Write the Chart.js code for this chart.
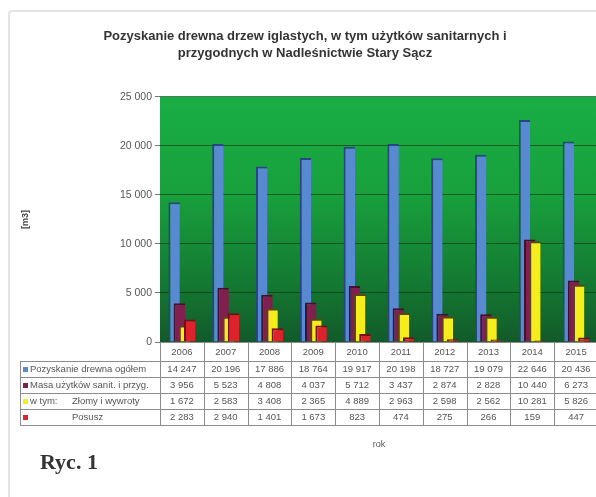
<!DOCTYPE html>
<html lang="pl">
<head>
<meta charset="utf-8">
<script src="https://cdn.jsdelivr.net/npm/chart.js@4.4.1/dist/chart.umd.min.js"></script>
<style>
  html, body { margin: 0; padding: 0; background: #fff; overflow: hidden; }
  #ramka { position: absolute; left: 8px; top: 10px; width: 640px; height: 540px; border: 2px solid #e4e4e4; border-radius: 4px; }
  #wykres { position: absolute; left: 0; top: 0; }
  #ryc { position: absolute; left: 40px; top: 449px; font: bold 22px 'Liberation Serif', serif; color: #333; }
</style>
</head>
<body>
<div id="ramka"></div>
<canvas id="wykres" width="600" height="497"></canvas>
<div id="ryc">Ryc. 1</div>
<script>
    // dane z tabeli pod wykresem
    const lata = ['2006', '2007', '2008', '2009', '2010', '2011', '2012', '2013', '2014', '2015'];
    const ogolem = [14247, 20196, 17886, 18764, 19917, 20198, 18727, 19079, 22646, 20436];
    const masaSanit = [3956, 5523, 4808, 4037, 5712, 3437, 2874, 2828, 10440, 6273];
    const zlomy = [1672, 2583, 3408, 2365, 4889, 2963, 2598, 2562, 10281, 5826];
    const posusz = [2283, 2940, 1401, 1673, 823, 474, 275, 266, 159, 447];
    const osY = [0, 5000, 10000, 15000, 20000, 25000];

    const tytul = ['Pozyskanie drewna drzew iglastych, w tym użytków sanitarnych i', 'przygodnych w Nadleśnictwie Stary Sącz'];
    const nazwy = ['Pozyskanie drewna ogółem', 'Masa użytków sanit. i przyg.', 'Złomy i wywroty', 'Posusz'];

    const paleta = {
        niebieski: 'rgb(88, 138, 210)',
        niebieskiCien: 'rgb(40, 70, 130)',
        bordo: 'rgb(128, 32, 78)',
        bordoCien: 'rgb(70, 15, 45)',
        zolty: 'rgb(246, 238, 28)',
        zoltyCien: 'rgb(90, 70, 20)',
        czerwony: 'rgb(222, 34, 44)',
        czerwonyCien: 'rgb(120, 15, 20)',
        tekst: '#555'
    };
    const czcionka = 'Arial, "Liberation Sans", sans-serif';

    const fmt = v => String(v).replace(/\B(?=(\d{3})+(?!\d))/g, ' ');

    // zielone tlo obszaru wykresu
    const tlo = {
        id: 'tlo',
        beforeDraw(chart) {
            const { ctx, chartArea: a } = chart;
            const g = ctx.createLinearGradient(0, a.top, 0, a.bottom);
            g.addColorStop(0, '#19ae45');
            g.addColorStop(0.4, '#18a03c');
            g.addColorStop(0.75, '#147a32');
            g.addColorStop(1, '#125a2a');
            ctx.save();
            ctx.fillStyle = g;
            ctx.fillRect(a.left, a.top, a.right - a.left, a.bottom - a.top);
            ctx.restore();
        }
    };

    // kolumny rysowane od tylu (niebieska) do przodu (czerwona)
    const kolejnosc = {
        id: 'kolejnosc',
        beforeDatasetsDraw(chart) {
            chart.getSortedVisibleDatasetMetas().forEach(meta => meta.controller.draw());
            return false;
        }
    };

    // tabela danych pod osia X
    const tabela = {
        id: 'tabela',
        afterDraw(chart) {
            const { ctx, chartArea: a, scales: { x } } = chart;
            const wiersze = [ogolem, masaSanit, zlomy, posusz];
            const kolory = [paleta.niebieski, paleta.bordo, paleta.zolty, paleta.czerwony];
            const szer = (a.right - a.left) / lata.length;
            const lewa = 20;
            const ys = [a.bottom];
            [19, 16, 16, 16, 16].forEach(h => ys.push(ys[ys.length - 1] + h));

            ctx.save();
            ctx.strokeStyle = '#8c8c8c';
            ctx.lineWidth = 1;
            ctx.beginPath();
            ctx.moveTo(a.left, ys[0] + 0.5); ctx.lineTo(a.right, ys[0] + 0.5);
            for (let i = 1; i < ys.length; i++) {
                ctx.moveTo(lewa, ys[i] + 0.5); ctx.lineTo(a.right, ys[i] + 0.5);
            }
            ctx.moveTo(lewa + 0.5, ys[1]); ctx.lineTo(lewa + 0.5, ys[5]);
            for (let k = 0; k <= lata.length; k++) {
                const px = Math.round(a.left + k * szer) + 0.5;
                ctx.moveTo(px, ys[0]); ctx.lineTo(px, ys[5]);
            }
            ctx.stroke();

            ctx.fillStyle = paleta.tekst;
            ctx.font = '9.5px ' + czcionka;
            ctx.textAlign = 'center';
            ctx.textBaseline = 'middle';
            lata.forEach((r, i) => ctx.fillText(r, x.getPixelForTick(i), (ys[0] + ys[1]) / 2 + 1));

            wiersze.forEach((dane, j) => {
                const yc = (ys[j + 1] + ys[j + 2]) / 2 + 0.5;
                ctx.fillStyle = kolory[j];
                ctx.fillRect(23, yc - 2.5, 5, 5);
                ctx.fillStyle = paleta.tekst;
                ctx.textAlign = 'left';
                if (j === 2) {
                    ctx.fillText('w tym:', 30, yc);
                    ctx.fillText(nazwy[j], 72, yc);
                } else if (j === 3) {
                    ctx.fillText(nazwy[j], 72, yc);
                } else {
                    ctx.fillText(nazwy[j], 30, yc);
                }
                ctx.textAlign = 'center';
                dane.forEach((v, i) => ctx.fillText(fmt(v), x.getPixelForTick(i), yc));
            });
            ctx.restore();
        }
    };

    new Chart(document.getElementById('wykres'), {
        type: 'bar',
        data: {
            labels: lata,
            datasets: [
                { label: nazwy[0], data: ogolem, backgroundColor: paleta.niebieski, borderColor: paleta.niebieskiCien, borderWidth: { left: 2, top: 2, right: 0, bottom: 0 } },
                { label: nazwy[1], data: masaSanit, backgroundColor: paleta.bordo, borderColor: paleta.bordoCien, borderWidth: { left: 2, top: 2, right: 0, bottom: 0 } },
                { label: nazwy[2], data: zlomy, backgroundColor: paleta.zolty, borderColor: paleta.zoltyCien, borderWidth: { left: 2, top: 2, right: 0, bottom: 0 } },
                { label: nazwy[3], data: posusz, backgroundColor: paleta.czerwony, borderColor: paleta.czerwonyCien, borderWidth: { left: 2, top: 2, right: 0, bottom: 0 } }
            ]
        },
        options: {
            responsive: false,
            animation: false,
            datasets: {
                bar: { categoryPercentage: 0.475, barPercentage: 2.2 }
            },
            layout: { padding: { left: 12, right: 2, top: 0, bottom: 47 } },
            plugins: {
                legend: { display: false },
                tooltip: { enabled: false },
                title: {
                    display: true,
                    text: tytul,
                    color: '#333',
                    font: { family: czcionka, size: 13, weight: 'bold', lineHeight: 1.3 },
                    padding: { top: 28, bottom: 35 }
                }
            },
            scales: {
                x: {
                    ticks: { display: false },
                    grid: { display: false },
                    border: { display: false },
                    title: {
                        display: true,
                        text: 'rok',
                        color: paleta.tekst,
                        font: { family: czcionka, size: 9 },
                        padding: 0
                    },
                    afterFit(s) { s.height = 108; }
                },
                y: {
                    min: 0,
                    max: 25000,
                    afterBuildTicks(s) { s.ticks = osY.map(v => ({ value: v })); },
                    ticks: {
                        callback: v => fmt(v),
                        color: paleta.tekst,
                        font: { family: czcionka, size: 10.5 },
                        padding: 3
                    },
                    grid: { color: 'rgba(0, 45, 10, 0.6)', tickColor: '#777', tickLength: 5 },
                    border: { display: false },
                    title: {
                        display: true,
                        text: '[m3]',
                        color: '#444',
                        font: { family: czcionka, size: 9, weight: 'bold' },
                        padding: { top: 8, bottom: 0 }
                    },
                    afterFit(s) { s.width = 148; }
                }
            }
        },
        plugins: [tlo, kolejnosc, tabela]
    });
</script>
</body>
</html>
